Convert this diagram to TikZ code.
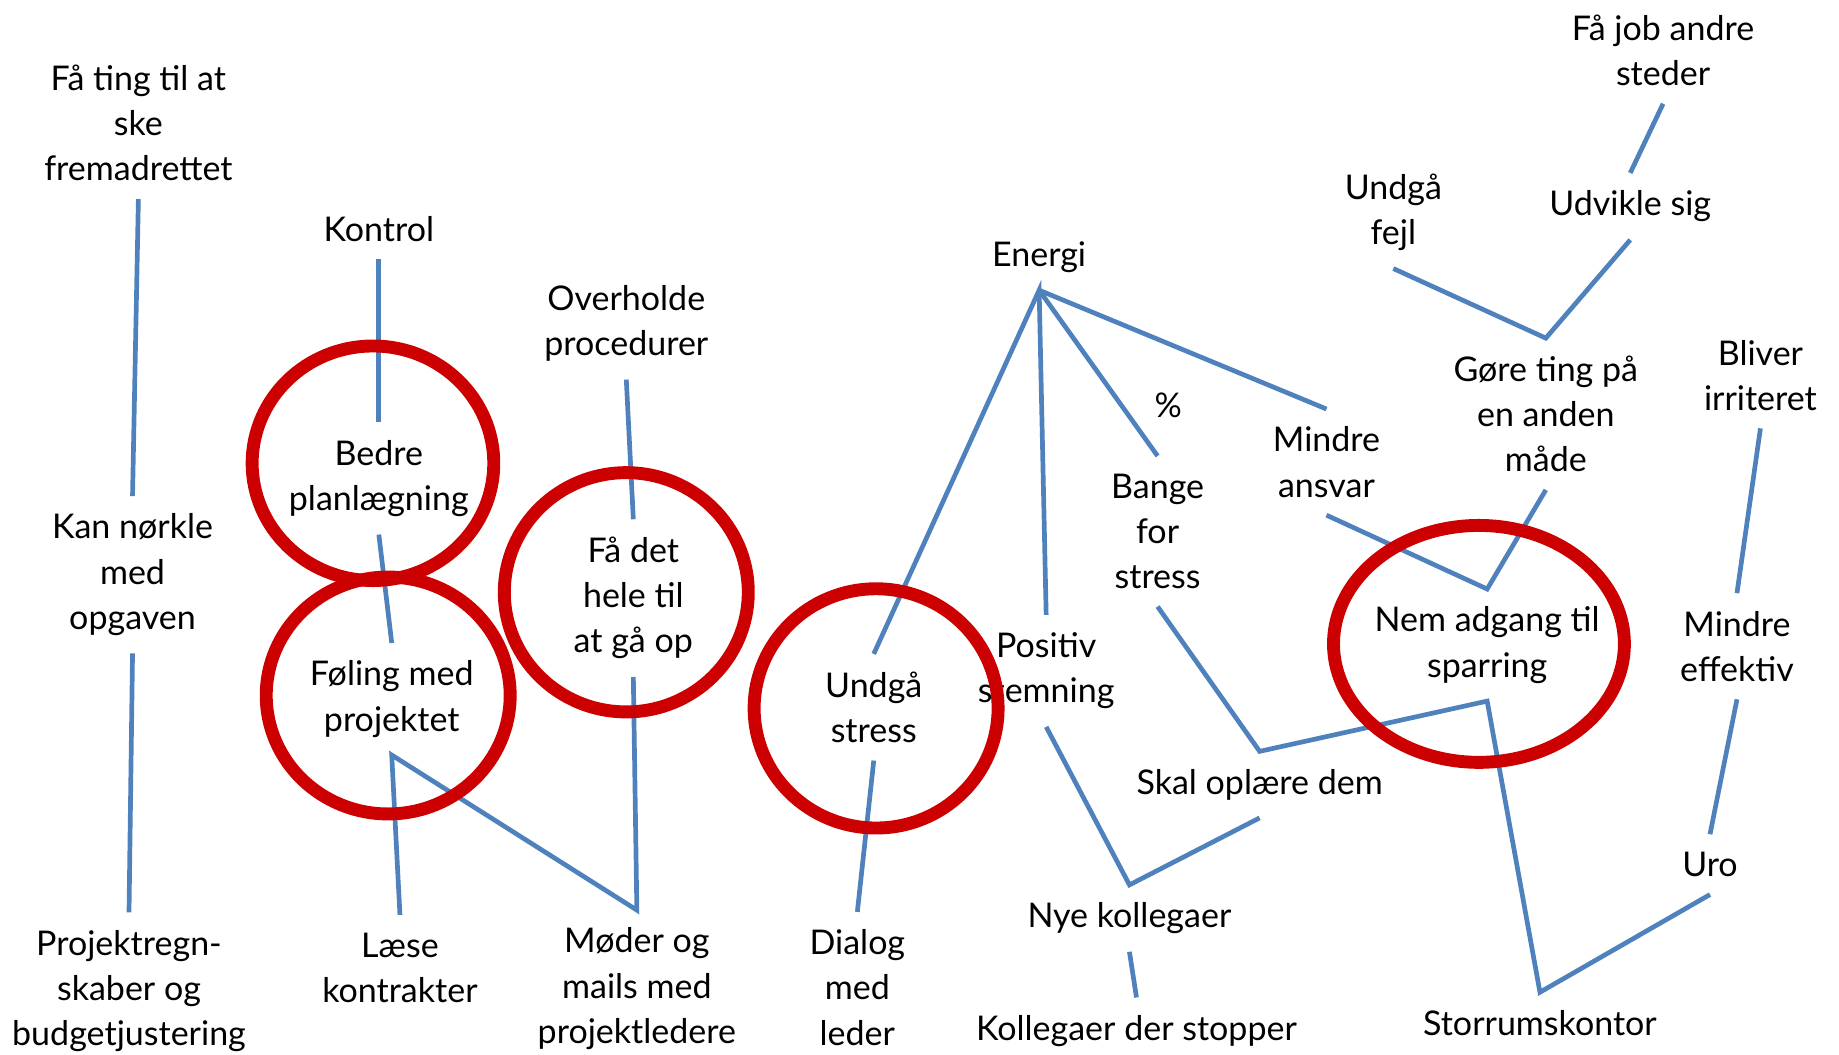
\documentclass[tikz,border=0pt]{standalone}
\usepackage{fontspec}
\setmainfont{Lato}
\usepackage{tikz}
\definecolor{ring}{RGB}{204, 0, 0}
\definecolor{link}{RGB}{79, 129, 189}

\begin{document}
\begin{tikzpicture}[x=1pt, y=-1pt,
    txt/.style={align=center, inner sep=15pt, font=\fontsize{29}{38.5}\selectfont},
    conn/.style={color=link, line width=4pt},
    hilite/.style={color=ring, line width=11pt}]

  \useasboundingbox (0, 0) rectangle (1568, 899);

  % left column
  \node[txt] (fating) at (118, 105) {Få ting til at\\ske\\fremadrettet};
  \node[txt] (kan) at (113, 490) {Kan nørkle\\med\\opgaven};
  \node[txt] (projekt) at (110, 845) {Projektregn-\\skaber og\\budgetjustering};

  \node[txt] (kontrol) at (323, 195) {Kontrol};
  \node[txt] (bedre) at (323, 408) {Bedre\\planlægning};
  \node[txt] (foling) at (334, 596) {Føling med\\projektet};
  \node[txt] (laese) at (341, 825) {Læse\\kontrakter};

  \node[txt] (overholde) at (534, 276) {Overholde\\procedurer};
  \node[txt] (faadet) at (540, 510) {Få det\\hele til\\at gå op};
  \node[txt] (moder) at (543, 843) {Møder og\\mails med\\projektledere};

  \node[txt] (undgaa) at (745, 603) {Undgå\\stress};
  \node[txt] (dialog) at (731, 842) {Dialog\\med\\leder};

  % middle
  \node[txt] (energi) at (886, 219) {Energi};
  \node[txt] (positiv) at (892, 572) {Positiv\\stemning};
  \node[txt] (pct) at (996, 346) {\%};
  \node[txt] (bange) at (987, 453) {Bange\\for\\stress};
  \node[txt] (mindre) at (1131, 394) {Mindre\\ansvar};
  \node[txt] (skal) at (1074, 669) {Skal oplære dem};
  \node[txt] (nye) at (963, 783) {Nye kollegaer};
  \node[txt] (stopper) at (969, 879) {Kollegaer der stopper};

  % right
  \node[txt] (fajob) at (1418, 43) {Få job andre\\steder};
  \node[txt] (fejl) at (1188, 181) {Undgå\\fejl};
  \node[txt] (udvikle) at (1390, 176) {Udvikle sig};
  \node[txt] (gore) at (1318, 353) {Gøre ting på\\en anden\\måde};
  \node[txt] (nem) at (1268, 550) {Nem adgang til\\sparring};
  \node[txt] (bliver) at (1501, 320) {Bliver\\irriteret};
  \node[txt] (effektiv) at (1481, 551) {Mindre\\effektiv};
  \node[txt] (uro) at (1458, 737) {Uro};
  \node[txt] (storrum) at (1313, 872) {Storrumskontor};

  \draw[conn] (fating.south) -- (kan.north);
  \draw[conn] (kan.south) -- (projekt.north);
  \draw[conn] (kontrol.south) -- (bedre.north);
  \draw[conn] (bedre.south) -- (foling.north);
  \draw[conn] (laese.north) -- (foling.south) -- (moder.north) -- (faadet.south);
  \draw[conn] (overholde.south) -- (faadet.north);
  \draw[conn] (undgaa.south) -- (dialog.north);

  \draw[conn] (undgaa.north) -- (energi.south) -- (positiv.north);
  \draw[conn] (energi.south) -- (bange.north);
  \draw[conn] (energi.south) -- (mindre.north);
  \draw[conn] (bange.south) -- (skal.north) -- (nem.south) -- (storrum.north) -- (uro.south);
  \draw[conn] (positiv.south) -- (nye.north) -- (skal.south);
  \draw[conn] (nye.south) -- (stopper.north);

  \draw[conn] (mindre.south) -- (nem.north) -- (gore.south);
  \draw[conn] (fejl.south) -- (gore.north) -- (udvikle.south);
  \draw[conn] (udvikle.north) -- (fajob.south);
  \draw[conn] (bliver.south) -- (effektiv.north);
  \draw[conn] (effektiv.south) -- (uro.north);

  % red rings
  \draw[hilite] (318, 395) ellipse (103 and 100);
  \draw[hilite] (331, 593) ellipse (104 and 101);
  \draw[hilite] (534, 505) ellipse (104 and 102);
  \draw[hilite] (747, 604) ellipse (104 and 102);
  \draw[hilite] (1261, 549) ellipse (124 and 101);

\end{tikzpicture}
\end{document}
